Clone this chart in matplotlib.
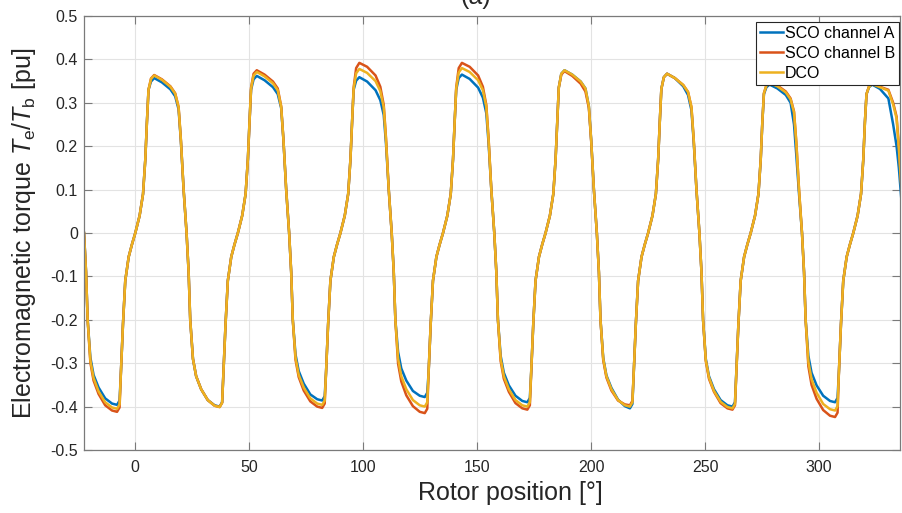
import numpy as np
import matplotlib
matplotlib.use("Agg")
import matplotlib.pyplot as plt

plt.rcParams['font.family'] = ['Liberation Sans', 'DejaVu Sans']
plt.rcParams['mathtext.fontset'] = 'custom'
plt.rcParams['mathtext.rm'] = 'Liberation Sans'
plt.rcParams['mathtext.it'] = 'Liberation Sans:italic'
plt.rcParams['axes.unicode_minus'] = False

# one electrical period = 45 deg of rotor position, 8 periods shown
cycle_start = [-22.5, 22.5, 67.5, 112.5, 157.5, 202.5, 247.5, 292.5]
phase = [0.0, 0.9, 1.6, 2.8, 4.2, 6.4, 9.3, 12.3, 14.5, 15.6,
         16.2, 17.1, 18.1, 19.6, 21.0, 22.5, 24.4, 25.9, 26.9, 27.6,
         28.3, 29.4, 30.8, 34.2, 37.9, 40.0, 41.5, 42.5, 43.7]

# torque samples [pu], one row per period
sco_a = [
    [0.0, -0.09, -0.2, -0.287, -0.327, -0.356, -0.381, -0.393, -0.396, -0.386,
     -0.32, -0.21, -0.11, -0.055, -0.027, 0.0, 0.04, 0.09, 0.17, 0.255,
     0.33, 0.349, 0.357, 0.347, 0.331, 0.315, 0.285, 0.212, 0.1],
    [0.0, -0.09, -0.2, -0.29, -0.33, -0.36, -0.385, -0.397, -0.40, -0.39,
     -0.32, -0.21, -0.11, -0.055, -0.027, 0.0, 0.04, 0.09, 0.17, 0.255,
     0.33, 0.354, 0.362, 0.352, 0.336, 0.32, 0.288, 0.214, 0.1],
    [0.0, -0.09, -0.2, -0.28, -0.318, -0.347, -0.372, -0.383, -0.386, -0.376,
     -0.32, -0.21, -0.11, -0.055, -0.027, 0.0, 0.04, 0.09, 0.17, 0.255,
     0.33, 0.351, 0.359, 0.349, 0.329, 0.306, 0.272, 0.205, 0.1],
    [0.0, -0.09, -0.2, -0.274, -0.312, -0.34, -0.364, -0.375, -0.378, -0.368,
     -0.32, -0.21, -0.11, -0.055, -0.027, 0.0, 0.04, 0.09, 0.17, 0.255,
     0.33, 0.357, 0.365, 0.355, 0.335, 0.312, 0.276, 0.207, 0.1],
    [0.0, -0.09, -0.2, -0.283, -0.322, -0.351, -0.375, -0.387, -0.39, -0.38,
     -0.32, -0.21, -0.11, -0.055, -0.027, 0.0, 0.04, 0.09, 0.17, 0.255,
     0.335, 0.367, 0.375, 0.365, 0.349, 0.333, 0.292, 0.215, 0.1],
    [0.0, -0.09, -0.2, -0.288, -0.328, -0.357, -0.384, -0.399, -0.404, -0.394,
     -0.32, -0.21, -0.11, -0.055, -0.027, 0.0, 0.04, 0.09, 0.17, 0.255,
     0.332, 0.359, 0.367, 0.357, 0.338, 0.318, 0.283, 0.21, 0.1],
    [0.0, -0.09, -0.2, -0.29, -0.33, -0.36, -0.385, -0.397, -0.40, -0.39,
     -0.32, -0.21, -0.11, -0.055, -0.027, 0.0, 0.04, 0.09, 0.17, 0.255,
     0.32, 0.336, 0.342, 0.333, 0.318, 0.30, 0.25, 0.18, 0.09],
    [0.0, -0.09, -0.2, -0.283, -0.322, -0.351, -0.375, -0.387, -0.39, -0.38,
     -0.32, -0.21, -0.11, -0.055, -0.027, 0.0, 0.04, 0.09, 0.17, 0.255,
     0.32, 0.336, 0.342, 0.332, 0.31, 0.25, 0.20, 0.15, 0.07],
]

sco_b = [
    [0.0, -0.09, -0.2, -0.299, -0.34, -0.371, -0.397, -0.409, -0.412, -0.402,
     -0.32, -0.21, -0.11, -0.055, -0.027, 0.0, 0.04, 0.09, 0.17, 0.255,
     0.33, 0.356, 0.364, 0.354, 0.338, 0.322, 0.29, 0.215, 0.1],
    [0.0, -0.09, -0.2, -0.29, -0.33, -0.36, -0.385, -0.398, -0.401, -0.391,
     -0.32, -0.21, -0.11, -0.055, -0.027, 0.0, 0.04, 0.09, 0.17, 0.255,
     0.335, 0.367, 0.375, 0.365, 0.349, 0.333, 0.292, 0.215, 0.1],
    [0.0, -0.09, -0.2, -0.292, -0.332, -0.363, -0.388, -0.40, -0.403, -0.393,
     -0.32, -0.21, -0.11, -0.055, -0.027, 0.0, 0.04, 0.09, 0.17, 0.255,
     0.335, 0.38, 0.392, 0.383, 0.363, 0.337, 0.295, 0.218, 0.1],
    [0.0, -0.09, -0.2, -0.301, -0.342, -0.374, -0.399, -0.412, -0.415, -0.405,
     -0.32, -0.21, -0.11, -0.055, -0.027, 0.0, 0.04, 0.09, 0.17, 0.255,
     0.335, 0.38, 0.392, 0.383, 0.363, 0.337, 0.295, 0.218, 0.1],
    [0.0, -0.09, -0.2, -0.295, -0.336, -0.366, -0.392, -0.404, -0.407, -0.397,
     -0.32, -0.21, -0.11, -0.055, -0.027, 0.0, 0.04, 0.09, 0.17, 0.255,
     0.335, 0.365, 0.373, 0.362, 0.344, 0.326, 0.288, 0.213, 0.1],
    [0.0, -0.09, -0.2, -0.293, -0.333, -0.363, -0.386, -0.395, -0.397, -0.387,
     -0.32, -0.21, -0.11, -0.055, -0.027, 0.0, 0.04, 0.09, 0.17, 0.255,
     0.332, 0.359, 0.367, 0.357, 0.341, 0.325, 0.29, 0.215, 0.1],
    [0.0, -0.09, -0.2, -0.295, -0.336, -0.366, -0.392, -0.404, -0.407, -0.397,
     -0.32, -0.21, -0.11, -0.055, -0.027, 0.0, 0.04, 0.09, 0.17, 0.255,
     0.322, 0.341, 0.348, 0.34, 0.326, 0.31, 0.28, 0.21, 0.1],
    [0.0, -0.09, -0.2, -0.307, -0.35, -0.382, -0.408, -0.421, -0.424, -0.414,
     -0.32, -0.21, -0.11, -0.055, -0.027, 0.0, 0.04, 0.09, 0.17, 0.255,
     0.32, 0.338, 0.344, 0.337, 0.33, 0.30, 0.268, 0.2, 0.1],
]

dco = [
    [0.0, -0.09, -0.2, -0.294, -0.334, -0.365, -0.39, -0.402, -0.405, -0.395,
     -0.32, -0.21, -0.11, -0.055, -0.027, 0.0, 0.04, 0.09, 0.17, 0.255,
     0.33, 0.355, 0.363, 0.353, 0.337, 0.321, 0.29, 0.215, 0.1],
    [0.0, -0.09, -0.2, -0.29, -0.33, -0.36, -0.385, -0.398, -0.401, -0.391,
     -0.32, -0.21, -0.11, -0.055, -0.027, 0.0, 0.04, 0.09, 0.17, 0.255,
     0.333, 0.363, 0.371, 0.361, 0.345, 0.329, 0.291, 0.215, 0.1],
    [0.0, -0.09, -0.2, -0.287, -0.327, -0.356, -0.381, -0.393, -0.396, -0.386,
     -0.32, -0.21, -0.11, -0.055, -0.027, 0.0, 0.04, 0.09, 0.17, 0.255,
     0.333, 0.368, 0.378, 0.369, 0.35, 0.327, 0.29, 0.215, 0.1],
    [0.0, -0.09, -0.2, -0.29, -0.33, -0.36, -0.385, -0.397, -0.40, -0.39,
     -0.32, -0.21, -0.11, -0.055, -0.027, 0.0, 0.04, 0.09, 0.17, 0.255,
     0.333, 0.37, 0.38, 0.371, 0.352, 0.329, 0.291, 0.215, 0.1],
    [0.0, -0.09, -0.2, -0.29, -0.33, -0.36, -0.385, -0.397, -0.40, -0.39,
     -0.32, -0.21, -0.11, -0.055, -0.027, 0.0, 0.04, 0.09, 0.17, 0.255,
     0.335, 0.367, 0.375, 0.365, 0.349, 0.333, 0.292, 0.215, 0.1],
    [0.0, -0.09, -0.2, -0.29, -0.33, -0.36, -0.385, -0.397, -0.40, -0.39,
     -0.32, -0.21, -0.11, -0.055, -0.027, 0.0, 0.04, 0.09, 0.17, 0.255,
     0.332, 0.359, 0.367, 0.357, 0.341, 0.325, 0.29, 0.215, 0.1],
    [0.0, -0.09, -0.2, -0.293, -0.333, -0.364, -0.389, -0.401, -0.404, -0.394,
     -0.32, -0.21, -0.11, -0.055, -0.027, 0.0, 0.04, 0.09, 0.17, 0.255,
     0.322, 0.34, 0.346, 0.338, 0.324, 0.308, 0.278, 0.208, 0.1],
    [0.0, -0.09, -0.2, -0.297, -0.337, -0.368, -0.394, -0.406, -0.409, -0.399,
     -0.32, -0.21, -0.11, -0.055, -0.027, 0.0, 0.04, 0.09, 0.17, 0.255,
     0.32, 0.337, 0.343, 0.336, 0.328, 0.296, 0.264, 0.195, 0.095],
]

labels = ["SCO channel A", "SCO channel B", "DCO"]
colors = ["#0072BD", "#D95319", "#EDB120"]
x_ticks = [0, 50, 100, 150, 200, 250, 300]
y_ticks = [-0.5, -0.4, -0.3, -0.2, -0.1, 0, 0.1, 0.2, 0.3, 0.4, 0.5]
y_tick_labels = ['-0.5', '-0.4', '-0.3', '-0.2', '-0.1', '0',
                 '0.1', '0.2', '0.3', '0.4', '0.5']

theta = np.concatenate([s + np.array(phase) for s in cycle_start])

fig = plt.figure(figsize=(9.02, 5.13), dpi=100)
ax = fig.add_axes([84/902, 63/513, 816/902, 434/513])

for series, lab, col in zip([sco_a, sco_b, dco], labels, colors):
    ax.plot(theta, np.concatenate(series), color=col, lw=1.8, label=lab,
            solid_joinstyle='round')

ax.set_xlim(-22.5, 335.5)
ax.set_ylim(-0.5, 0.5)
ax.set_xticks(x_ticks)
ax.set_yticks(y_ticks)
ax.set_yticklabels(y_tick_labels)
ax.grid(True, color='#e3e3e3', lw=0.8)
ax.set_axisbelow(True)

ax.tick_params(direction='in', length=6, width=0.8, color='#7a7a7a',
               top=True, right=True, labelsize=11.5, labelcolor='#262626')
ax.tick_params(axis='x', pad=7)
ax.tick_params(axis='y', pad=4.5)
for sp in ax.spines.values():
    sp.set_color('#7a7a7a')
    sp.set_linewidth(0.9)

ax.set_xlabel('Rotor position [°]', fontsize=18, color='#262626')
ax.set_ylabel(r'Electromagnetic torque $T_\mathrm{e}/T_\mathrm{b}$ [pu]',
              fontsize=18, color='#262626')
ax.xaxis.set_label_coords((510 - 84) / 816, -0.072)
ax.yaxis.set_label_coords(-0.056, 0.5)

fig.text(476/902, 1 - 4/513, '(a)', ha='center', va='baseline',
         fontsize=18, color='#262626')

leg = ax.legend(loc='upper right', bbox_to_anchor=(0.999, 0.986),
                borderaxespad=0, fontsize=11.5, handlelength=1.4,
                handletextpad=0.15, borderpad=0.25, labelspacing=0.3,
                fancybox=False, framealpha=1)
leg.get_frame().set_edgecolor('#262626')
leg.get_frame().set_linewidth(0.8)

plt.savefig('out.png', dpi=100)
